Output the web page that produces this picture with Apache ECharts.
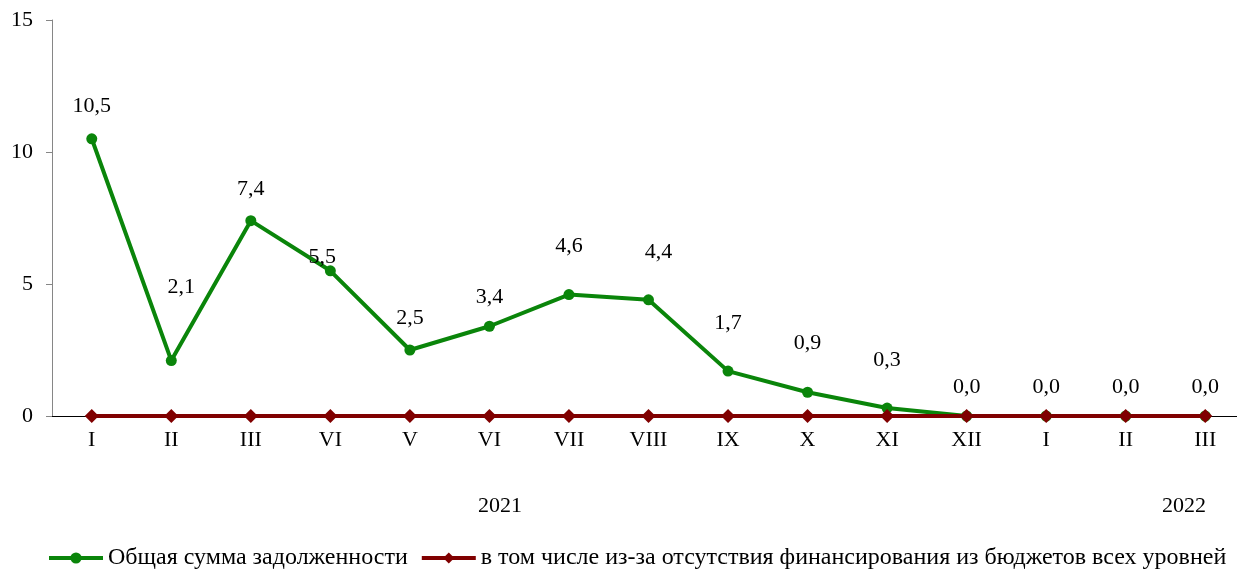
<!DOCTYPE html>
<html>
<head>
<meta charset="utf-8">
<script src="https://cdn.jsdelivr.net/npm/echarts@6/dist/echarts.min.js"></script>
<style>
  html, body { margin: 0; padding: 0; background: #fff; }
  #chart { width: 1237px; height: 574px; }
</style>
</head>
<body>
<div id="chart"></div>
<script>
// месяцы
const months = ['I', 'II', 'III', 'VI', 'V', 'VI', 'VII', 'VIII', 'IX', 'X', 'XI', 'XII', 'I', 'II', 'III'];
const totalDebt = [10.5, 2.1, 7.4, 5.5, 2.5, 3.4, 4.6, 4.4, 1.7, 0.9, 0.3, 0.0, 0.0, 0.0, 0.0];
const budgetDebt = [0, 0, 0, 0, 0, 0, 0, 0, 0, 0, 0, 0, 0, 0, 0];
const yearLabels = ['2021', '2022'];
const seriesNames = ['Общая сумма задолженности', 'в том числе из-за отсутствия финансирования из бюджетов всех уровней'];

// сдвиги подписей (как в исходной диаграмме)
const labelOffsets = [
  [0, -11], [10, -52], [0, -10], [-8, 8], [0, -10], [0, -8], [0, -27],
  [10, -26], [0, -26], [0, -28], [0, -26], [0, -7], [0, -7], [0, -7], [0, -7]
];

const fmt = (v) => v.toFixed(1).replace('.', ',');
const font = '"Liberation Serif", "Times New Roman", serif';
const green = '#0a850a';
const maroon = '#800000';

const chart = echarts.init(document.getElementById('chart'));
chart.setOption({
  animation: false,
  textStyle: { fontFamily: font },
  grid: { left: 52, width: 1193, top: 20, bottom: 158, outerBoundsMode: 'none', containLabel: false },
  legend: {
    top: 546,
    left: 47,
    width: 1190,
    padding: 0,
    itemWidth: 54,
    itemHeight: 14,
    itemGap: 12,
    textStyle: { fontFamily: font, fontSize: 24, color: '#000' },
    data: [
      { name: seriesNames[0], lineStyle: { width: 4, color: green }, itemStyle: { color: green } },
      { name: seriesNames[1], lineStyle: { width: 4, color: maroon }, itemStyle: { color: maroon } }
    ]
  },
  xAxis: {
    type: 'category',
    data: months,
    axisLine: { lineStyle: { color: '#000', width: 1 } },
    axisTick: { length: 6, lineStyle: { color: '#000' } },
    axisLabel: { fontFamily: font, fontSize: 22, color: '#000', margin: 13, interval: 0 }
  },
  yAxis: {
    type: 'value',
    min: 0,
    max: 15,
    interval: 5,
    splitLine: { show: false },
    axisLine: { show: true, lineStyle: { color: '#868686' } },
    axisTick: { show: true, length: 6, lineStyle: { color: '#868686' } },
    axisLabel: { fontFamily: font, fontSize: 22, color: '#000', margin: 19 }
  },
  graphic: [
    { type: 'text', left: 478, top: 495, style: { text: yearLabels[0], font: '22px ' + font, fill: '#000' } },
    { type: 'text', left: 1162, top: 495, style: { text: yearLabels[1], font: '22px ' + font, fill: '#000' } }
  ],
  series: [
    {
      name: seriesNames[0],
      type: 'line',
      data: totalDebt.map((v, i) => ({
        value: v,
        label: { offset: labelOffsets[i] }
      })),
      symbol: 'circle',
      symbolSize: 11,
      lineStyle: { color: green, width: 4 },
      itemStyle: { color: green },
      label: {
        show: true,
        position: 'top',
        fontFamily: font,
        fontSize: 22,
        color: '#000',
        formatter: (p) => fmt(p.value)
      }
    },
    {
      name: seriesNames[1],
      type: 'line',
      data: budgetDebt,
      symbol: 'diamond',
      symbolSize: 14,
      lineStyle: { color: maroon, width: 4 },
      itemStyle: { color: maroon }
    }
  ]
});
</script>
</body>
</html>
